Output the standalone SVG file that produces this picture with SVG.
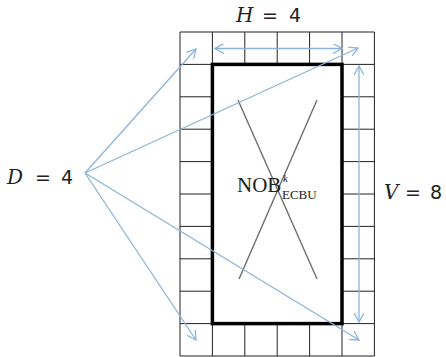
<svg xmlns="http://www.w3.org/2000/svg" width="446" height="357" viewBox="0 0 446 357">
<defs>
<style>
.cell{fill:#fff;stroke:#222;stroke-width:1}
.conn{stroke:#8db4d8;stroke-width:1.3;fill:none}
.xl{stroke:#6e6e6e;stroke-width:1.4}
.lab{font-family:"DejaVu Sans","Liberation Sans",sans-serif;font-size:19px;fill:#222}
.var{font-family:"DejaVu Serif","Liberation Serif",serif;font-style:italic;font-size:20px}
.nob{font-family:"Liberation Serif","Times New Roman",serif;fill:#222}
</style>
<marker id="ah" viewBox="0 0 10 10" refX="9" refY="5" markerWidth="10" markerHeight="10" markerUnits="userSpaceOnUse" orient="auto-start-reverse">
<path d="M0,0 L9,5 L0,10" fill="none" stroke="#8db4d8" stroke-width="1.3"/>
</marker>
</defs>
<rect width="446" height="357" fill="#fff"/>
<g id="grid">
<path class="cell" d="M180,32 H374.4 V356 H180 Z"/>
<path d="M212.4,32 V64.4 M244.8,32 V64.4 M277.2,32 V64.4 M309.6,32 V64.4 M342,32 V64.4
M212.4,323.6 V356 M244.8,323.6 V356 M277.2,323.6 V356 M309.6,323.6 V356 M342,323.6 V356
M180,64.4 H212.4 M180,96.8 H212.4 M180,129.2 H212.4 M180,161.6 H212.4 M180,194 H212.4 M180,226.4 H212.4 M180,258.8 H212.4 M180,291.2 H212.4 M180,323.6 H212.4
M342,64.4 H374.4 M342,96.8 H374.4 M342,129.2 H374.4 M342,161.6 H374.4 M342,194 H374.4 M342,226.4 H374.4 M342,258.8 H374.4 M342,291.2 H374.4 M342,323.6 H374.4" stroke="#222" stroke-width="1" fill="none"/>
</g>
<g id="block">
<rect x="212.4" y="64.4" width="129.6" height="259.2" fill="#fff" stroke="#000" stroke-width="3.5"/>
<line class="xl" x1="238" y1="100" x2="317" y2="279"/>
<line class="xl" x1="317" y1="100" x2="239" y2="279"/>
<text class="nob" x="237" y="192" font-size="21">NOB</text>
<text class="nob" x="282" y="199" font-size="13">ECBU</text>
<text class="nob" x="283" y="182" font-size="11" font-style="italic">k</text>
</g>
<g id="connectors">
<line class="conn" x1="215" y1="48.5" x2="342" y2="48.5" marker-start="url(#ah)" marker-end="url(#ah)"/>
<line class="conn" x1="359" y1="66" x2="359" y2="322" marker-start="url(#ah)" marker-end="url(#ah)"/>
<line class="conn" x1="85" y1="173" x2="196" y2="49" marker-end="url(#ah)"/>
<line class="conn" x1="85" y1="173" x2="358" y2="48" marker-end="url(#ah)"/>
<line class="conn" x1="85" y1="173" x2="196" y2="340" marker-end="url(#ah)"/>
<line class="conn" x1="85" y1="173" x2="359" y2="340" marker-end="url(#ah)"/>
</g>
<g id="labels">
<text class="lab" y="22"><tspan class="var" x="236">H</tspan><tspan x="262">=</tspan><tspan x="289">4</tspan></text>
<text class="lab" y="184"><tspan class="var" x="7">D</tspan><tspan x="35">=</tspan><tspan x="61">4</tspan></text>
<text class="lab" y="199"><tspan class="var" x="384">V</tspan><tspan x="405">=</tspan><tspan x="430">8</tspan></text>
</g>
</svg>
